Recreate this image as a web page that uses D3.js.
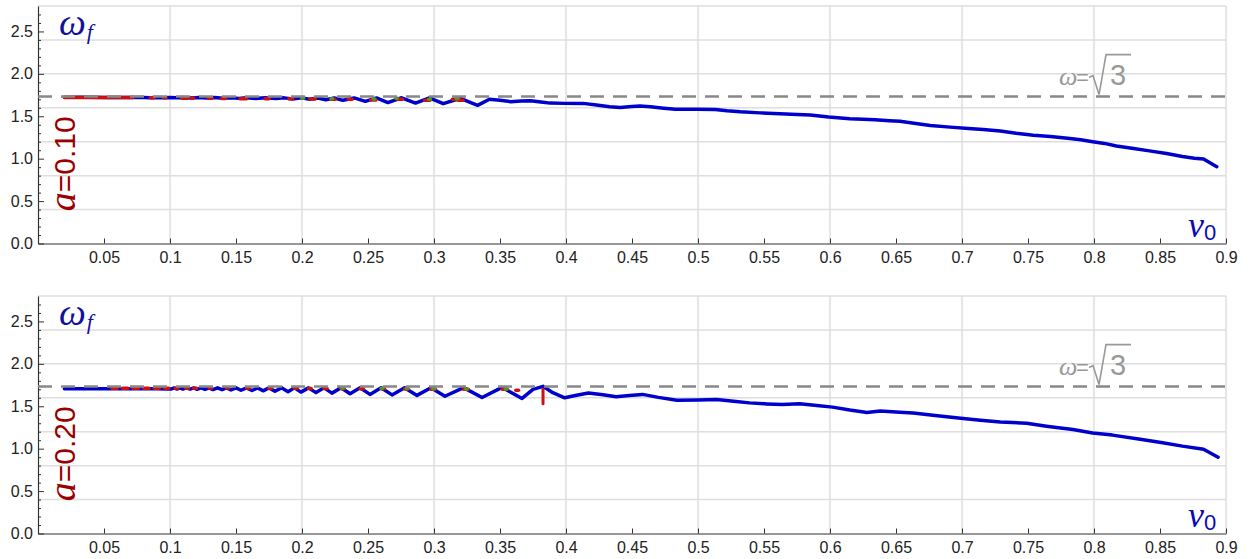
<!DOCTYPE html>
<html>
<head>
<meta charset="utf-8">
<script src="https://cdn.jsdelivr.net/npm/d3@7"></script>
<style>
  html, body { margin: 0; padding: 0; background: #fff; }
  svg { display: block; }
</style>
</head>
<body>
<svg id="chart" width="1256" height="559"></svg>
<script>
// ---- axis ticks ----
const xTickValues = [0.05, 0.1, 0.15, 0.2, 0.25, 0.3, 0.35, 0.4, 0.45, 0.5, 0.55, 0.6, 0.65, 0.7, 0.75, 0.8, 0.85, 0.9];
const xTickLabels = ["0.05", "0.1", "0.15", "0.2", "0.25", "0.3", "0.35", "0.4", "0.45", "0.5", "0.55", "0.6", "0.65", "0.7", "0.75", "0.8", "0.85", "0.9"];
const yTickValues = [0, 0.5, 1, 1.5, 2, 2.5];
const yTickLabels = ["0.0", "0.5", "1.0", "1.5", "2.0", "2.5"];
const yMinorValues = [0.1, 0.2, 0.3, 0.4, 0.6, 0.7, 0.8, 0.9, 1.1, 1.2, 1.3, 1.4, 1.6, 1.7, 1.8, 1.9, 2.1, 2.2, 2.3, 2.4, 2.6, 2.7];
const xGridValues = [0.1, 0.2, 0.3, 0.4, 0.5, 0.6, 0.7, 0.8, 0.9];
const yGridValues = [0.4, 0.8, 1.2, 1.6, 2.0, 2.4, 2.8];
const omegaRef = Math.sqrt(3);
const amplitudes = ["0.10", "0.20"];

// ---- a = 0.10 : final frequency vs v0 ----
const omegaTop = [
  [0.020, 1.724], [0.030, 1.723], [0.040, 1.723], [0.050, 1.722], [0.060, 1.722], [0.070, 1.721],
  [0.080, 1.722], [0.085, 1.719], [0.090, 1.722], [0.095, 1.718], [0.100, 1.721], [0.105, 1.717],
  [0.110, 1.721], [0.116, 1.716], [0.122, 1.720], [0.128, 1.714], [0.134, 1.720], [0.140, 1.713],
  [0.146, 1.719], [0.152, 1.711], [0.158, 1.718], [0.165, 1.710], [0.172, 1.718], [0.180, 1.708],
  [0.1865, 1.717], [0.193, 1.704], [0.1995, 1.717], [0.206, 1.700], [0.212, 1.716], [0.218, 1.694],
  [0.2245, 1.716], [0.231, 1.688], [0.2395, 1.716], [0.248, 1.676], [0.2565, 1.716], [0.265, 1.661],
  [0.2755, 1.718], [0.286, 1.656], [0.2965, 1.718], [0.307, 1.649], [0.320, 1.712], [0.333, 1.629],
  [0.342, 1.700], [0.350, 1.690], [0.358, 1.672], [0.366, 1.680], [0.373, 1.682], [0.381, 1.668],
  [0.388, 1.655], [0.399, 1.652], [0.413, 1.652], [0.423, 1.632], [0.433, 1.612], [0.441, 1.603],
  [0.450, 1.615], [0.456, 1.620], [0.464, 1.612], [0.474, 1.595], [0.483, 1.582], [0.499, 1.582],
  [0.513, 1.580], [0.522, 1.565], [0.532, 1.552], [0.547, 1.540], [0.562, 1.530], [0.575, 1.522],
  [0.585, 1.515], [0.599, 1.492], [0.615, 1.472], [0.625, 1.465], [0.634, 1.460], [0.645, 1.448],
  [0.653, 1.440], [0.665, 1.415], [0.676, 1.392], [0.691, 1.372], [0.705, 1.355], [0.716, 1.345],
  [0.729, 1.327], [0.741, 1.300], [0.754, 1.276], [0.767, 1.262], [0.780, 1.240], [0.790, 1.222],
  [0.799, 1.200], [0.808, 1.180], [0.817, 1.150], [0.830, 1.120], [0.842, 1.092], [0.855, 1.060],
  [0.867, 1.025], [0.876, 1.005], [0.883, 0.995], [0.893, 0.905]
];
// secondary branches: [v0 start, v0 end, omega]
const redTop = [
  [0.020, 0.072, 1.722], [0.085, 0.088, 1.719], [0.095, 0.097, 1.718], [0.109, 0.113, 1.713],
  [0.116, 0.118, 1.716], [0.129, 0.132, 1.712], [0.139, 0.142, 1.710], [0.153, 0.158, 1.708],
  [0.172, 0.175, 1.708], [0.190, 0.193, 1.706], [0.206, 0.210, 1.704], [0.222, 0.225, 1.700],
  [0.235, 0.238, 1.700], [0.252, 0.256, 1.692], [0.272, 0.276, 1.700], [0.293, 0.297, 1.690],
  [0.314, 0.319, 1.700], [0.318, 0.322, 1.688]
];
const greenTop = [
  [0.200, 0.2012, 1.712], [0.222, 0.2232, 1.708], [0.254, 0.2552, 1.705], [0.271, 0.2722, 1.712],
  [0.296, 0.2972, 1.700], [0.317, 0.3182, 1.708]
];

// ---- a = 0.20 ----
const omegaBottom = [
  [0.020, 1.708], [0.030, 1.708], [0.040, 1.707], [0.050, 1.707], [0.060, 1.707], [0.070, 1.706],
  [0.080, 1.706], [0.090, 1.706], [0.098, 1.705],
  [0.1008, 1.703], [0.1031, 1.716], [0.1053, 1.703], [0.1076, 1.716], [0.1098, 1.702], [0.1125, 1.716],
  [0.1152, 1.701], [0.1179, 1.716], [0.1205, 1.700], [0.1235, 1.716], [0.1265, 1.699], [0.1296, 1.717],
  [0.1326, 1.697], [0.1360, 1.717], [0.1394, 1.695], [0.1428, 1.717], [0.1462, 1.692], [0.1500, 1.717],
  [0.1538, 1.689], [0.1580, 1.717], [0.1621, 1.686], [0.1663, 1.717], [0.1705, 1.682], [0.1750, 1.717],
  [0.1795, 1.677], [0.1845, 1.717], [0.1894, 1.672], [0.1943, 1.717], [0.1992, 1.667], [0.2049, 1.717],
  [0.2106, 1.661], [0.2167, 1.717], [0.2227, 1.655], [0.2296, 1.718], [0.2364, 1.647], [0.2440, 1.718],
  [0.2515, 1.640], [0.2599, 1.718], [0.2682, 1.634], [0.2777, 1.718], [0.2871, 1.628], [0.2977, 1.718],
  [0.3083, 1.618], [0.3224, 1.720], [0.3364, 1.603], [0.3516, 1.722], [0.3667, 1.592],
  [0.3750, 1.700], [0.3826, 1.735], [0.3900, 1.660], [0.3990, 1.600], [0.4080, 1.630], [0.4170, 1.657],
  [0.4280, 1.635], [0.4380, 1.612], [0.4480, 1.628], [0.4580, 1.640], [0.4700, 1.605], [0.4840, 1.572],
  [0.5000, 1.575], [0.5140, 1.580], [0.5270, 1.558], [0.5390, 1.540], [0.5520, 1.528], [0.5640, 1.520],
  [0.5770, 1.530], [0.5900, 1.510], [0.6020, 1.490], [0.6150, 1.455], [0.6280, 1.426], [0.6380, 1.445],
  [0.6530, 1.430], [0.6630, 1.420], [0.6780, 1.394], [0.6990, 1.360], [0.7140, 1.335], [0.7290, 1.315],
  [0.7490, 1.300], [0.7640, 1.265], [0.7840, 1.225], [0.7990, 1.186], [0.8140, 1.160], [0.8350, 1.110],
  [0.8520, 1.070], [0.8670, 1.030], [0.8830, 0.994], [0.8940, 0.900]
];
const redBottom = [
  [0.056, 0.060, 1.712], [0.064, 0.068, 1.712], [0.072, 0.076, 1.711], [0.080, 0.084, 1.711],
  [0.088, 0.092, 1.711], [0.096, 0.099, 1.711], [0.104, 0.106, 1.712], [0.112, 0.114, 1.712],
  [0.118, 0.120, 1.712], [0.1296, 0.1315, 1.714], [0.1428, 0.1445, 1.714], [0.1580, 0.1600, 1.713],
  [0.1750, 0.1770, 1.712], [0.1943, 0.1965, 1.712], [0.2049, 0.2070, 1.710], [0.2167, 0.2190, 1.710],
  [0.2296, 0.2320, 1.708], [0.2440, 0.2465, 1.708], [0.2599, 0.2625, 1.706], [0.2777, 0.2805, 1.704],
  [0.2977, 0.3010, 1.702], [0.3224, 0.3260, 1.700], [0.3516, 0.3555, 1.700], [0.3620, 0.3640, 1.690]
];
const greenBottom = [
  [0.2300, 0.2312, 1.712], [0.2600, 0.2612, 1.712], [0.2790, 0.2802, 1.710], [0.2990, 0.3002, 1.708],
  [0.3240, 0.3252, 1.705], [0.3540, 0.3552, 1.705]
];
// vertical red excursion: [v0, omega low, omega high]
const redSpikeBottom = [[0.3826, 1.53, 1.70]];

const panels = [
  { top: 6, bottom: 243.5, amp: amplitudes[0], main: omegaTop, red: redTop, green: greenTop, spikes: [] },
  { top: 296, bottom: 533.5, amp: amplitudes[1], main: omegaBottom, red: redBottom, green: greenBottom, spikes: redSpikeBottom }
];

const svg = d3.select("#chart");
svg.append("rect").attr("width", 1256).attr("height", 559).attr("fill", "#fff");

const x = d3.scaleLinear().domain([0, 0.9]).range([38, 1226]);
const fontSans = "'Liberation Sans', Arial, Helvetica, sans-serif";
const fontSerif = "'Liberation Serif', 'Times New Roman', serif";

panels.forEach(p => {
  const y = d3.scaleLinear().domain([0, 2.8]).range([p.bottom, p.top]);
  const g = svg.append("g");

  // grid
  g.append("g").selectAll("line").data(xGridValues).join("line")
    .attr("x1", d => x(d)).attr("x2", d => x(d))
    .attr("y1", y(0)).attr("y2", y(2.8))
    .attr("stroke", "#cfcfcf").attr("stroke-width", 1);
  g.append("g").selectAll("line").data(yGridValues).join("line")
    .attr("x1", x(0)).attr("x2", x(0.9))
    .attr("y1", d => y(d)).attr("y2", d => y(d))
    .attr("stroke", "#dedede").attr("stroke-width", 1.5);

  // axes
  const yAxis = d3.axisLeft(y).tickValues(yTickValues)
    .tickFormat((d, i) => yTickLabels[i]).tickSize(-6).tickSizeOuter(0).tickPadding(5);
  const ya = g.append("g").attr("transform", `translate(${x(0)},0)`).call(yAxis);
  const yMinor = d3.axisLeft(y).tickValues(yMinorValues).tickFormat("").tickSize(-3).tickSizeOuter(0);
  const ym = g.append("g").attr("transform", `translate(${x(0)},0)`).call(yMinor);
  ym.select(".domain").remove();

  const xAxis = d3.axisBottom(x).tickValues(xTickValues)
    .tickFormat((d, i) => xTickLabels[i]).tickSize(-5).tickSizeOuter(0).tickPadding(8);
  const xa = g.append("g").attr("transform", `translate(0,${y(0)})`).call(xAxis);

  [ya, ym, xa].forEach(a => {
    a.selectAll(".domain").attr("stroke", "#333").attr("stroke-width", 1.2);
    a.selectAll(".tick line").attr("stroke", "#333");
    a.selectAll(".tick text").attr("font-family", fontSans).attr("font-size", 16).attr("fill", "#222");
  });

  // main branch
  const line = d3.line().x(d => x(d[0])).y(d => y(d[1]));
  g.append("path").datum(p.main).attr("d", line)
    .attr("fill", "none").attr("stroke", "#0000cc").attr("stroke-width", 3.5)
    .attr("stroke-linejoin", "round").attr("stroke-linecap", "round");

  // secondary branches
  g.append("g").selectAll("line").data(p.red).join("line")
    .attr("x1", d => x(d[0])).attr("x2", d => x(d[1]))
    .attr("y1", d => y(d[2])).attr("y2", d => y(d[2]))
    .attr("stroke", "#d01010").attr("stroke-width", 3.5).attr("stroke-linecap", "round");
  g.append("g").selectAll("line").data(p.green).join("line")
    .attr("x1", d => x(d[0])).attr("x2", d => x(d[1]))
    .attr("y1", d => y(d[2])).attr("y2", d => y(d[2]))
    .attr("stroke", "#4a9a20").attr("stroke-width", 3.5).attr("stroke-linecap", "round");
  g.append("g").selectAll("line").data(p.spikes).join("line")
    .attr("x1", d => x(d[0])).attr("x2", d => x(d[0]))
    .attr("y1", d => y(d[1])).attr("y2", d => y(d[2]))
    .attr("stroke", "#d01010").attr("stroke-width", 3).attr("stroke-linecap", "round");

  // reference frequency
  g.append("line")
    .attr("x1", x(0)).attr("x2", x(0.9))
    .attr("y1", y(omegaRef)).attr("y2", y(omegaRef))
    .attr("stroke", "#888").attr("stroke-width", 2.5).attr("stroke-dasharray", "14 9");

  // reference label  ω=√3
  const rx = x(0.7735), ry = y(omegaRef) - 12;
  const ref = g.append("g").attr("fill", "#999");
  ref.append("text").attr("x", rx).attr("y", ry)
    .attr("font-family", fontSerif).attr("font-style", "italic").attr("font-size", 26).text("ω");
  ref.append("text").attr("x", rx + 17).attr("y", ry)
    .attr("font-family", fontSans).attr("font-size", 22).text("=");
  g.append("path")
    .attr("d", `M${rx + 30},${ry - 7} L${rx + 34},${ry - 9} L${rx + 40},${ry + 10} L${rx + 47},${ry - 30} L${rx + 72},${ry - 30}`)
    .attr("fill", "none").attr("stroke", "#999").attr("stroke-width", 1.6);
  ref.append("text").attr("x", rx + 51).attr("y", ry)
    .attr("font-family", fontSans).attr("font-size", 29).text("3");

  // ω_f
  const wl = g.append("text").attr("x", x(0) + 21).attr("y", p.top + 29).attr("fill", "#10109a");
  wl.append("tspan").attr("font-family", fontSerif).attr("font-style", "italic").attr("font-size", 38).text("ω");
  wl.append("tspan").attr("font-family", fontSerif).attr("font-style", "italic").attr("font-size", 22)
    .attr("dy", 4).attr("dx", 1).text("f");

  // v_0
  const vl = g.append("text").attr("x", x(0.8712)).attr("y", y(0) - 7).attr("fill", "#0a0ab4");
  vl.append("tspan").attr("font-family", fontSerif).attr("font-style", "italic").attr("font-size", 36).text("v");
  vl.append("tspan").attr("font-family", fontSans).attr("font-size", 22).attr("dy", 3).text("0");

  // amplitude label, rotated
  const al = g.append("text")
    .attr("transform", `translate(${x(0) + 37},${(y(1.45) + y(0.43)) / 2}) rotate(-90)`)
    .attr("text-anchor", "middle").attr("fill", "#990000");
  al.append("tspan").attr("font-family", fontSerif).attr("font-style", "italic").attr("font-size", 38).text("a");
  al.append("tspan").attr("font-family", fontSans).attr("font-size", 30).text("=" + p.amp);
});
</script>
</body>
</html>
